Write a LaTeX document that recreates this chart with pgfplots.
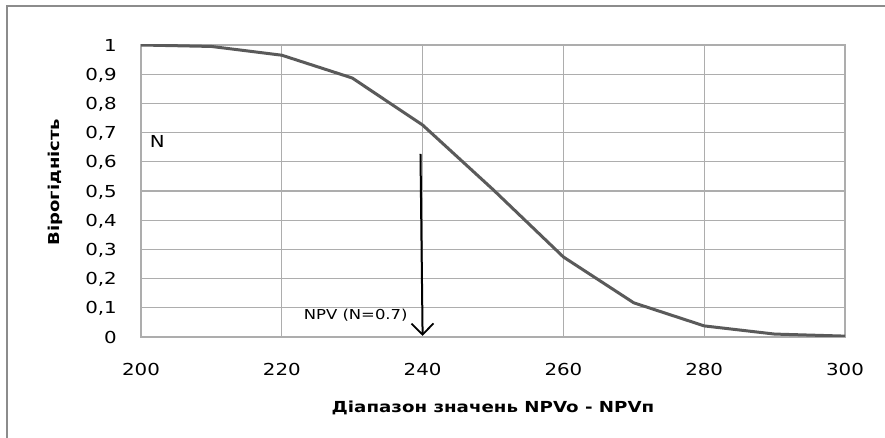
\documentclass[border=0pt]{standalone}
\usepackage{fontspec}
\setmainfont{DejaVu Sans}[FakeStretch=1.2]
\usepackage{pgfplots}
\pgfplotsset{compat=1.18}
\usetikzlibrary{arrows.meta}

\definecolor{gridgray}{HTML}{ADADAD}
\definecolor{curvegray}{HTML}{5A5A5A}
\definecolor{framegray}{HTML}{8C8C8C}

\begin{document}
\begin{tikzpicture}
\useasboundingbox (0pt,0pt) rectangle (885pt,438pt);
% outer chart frame (only left and top visible)
\draw[framegray, line width=1.8pt] (7pt,-10pt) -- (7pt,432pt) -- (900pt,432pt);

\begin{axis}[
  at={(141pt,101pt)}, anchor=south west,
  scale only axis,
  width=704pt, height=292pt,
  xmin=200, xmax=300, ymin=0, ymax=1,
  xtick={200,220,...,300},
  ytick={0,0.1,...,1.01},
  grid=both,
  major grid style={gridgray, line width=1.1pt},
  axis line style={gridgray, line width=1.1pt},
  tick style={draw=none},
  /pgf/number format/assume math mode=true,
  yticklabel style={/pgf/number format/use comma, /pgf/number format/fixed,
    anchor=east, inner sep=0pt, text depth=0pt, xshift=-24pt},
  xticklabel style={/pgf/number format/1000 sep={}, anchor=north, inner sep=0pt, yshift=-26pt},
  ticklabel style={font=\fontsize{16.5}{18}\selectfont},
]
\addplot[curvegray, line width=3pt, line join=round] coordinates {
(200,1.000) (210,0.995) (220,0.965) (230,0.887) (240,0.726)
(250,0.505) (260,0.274) (270,0.117) (280,0.038) (290,0.010) (300,0.003)
};
\draw[black, line width=2pt, -{Straight Barb[length=11pt,width=22pt,line width=1.8pt]}]
  (axis cs:239.7,0.627) -- (axis cs:240,0.004);
\node[font=\fontsize{16.5}{18}\selectfont, inner sep=0pt] at (axis cs:202.3,0.671) {N};
\node[font=\fontsize{13.7}{16}\selectfont, inner sep=0pt] at (axis cs:230.5,0.075) {NPV (N=0.7)};
\end{axis}

\node[font=\fontsize{15}{18}\selectfont\bfseries, rotate=90, inner sep=0pt] at (55pt,256pt) {Вірогідність};
\node[font=\fontsize{15.2}{18}\selectfont\bfseries, inner sep=0pt] at (493pt,30pt) {Діапазон значень NPVo - NPVп};
\end{tikzpicture}
\end{document}
